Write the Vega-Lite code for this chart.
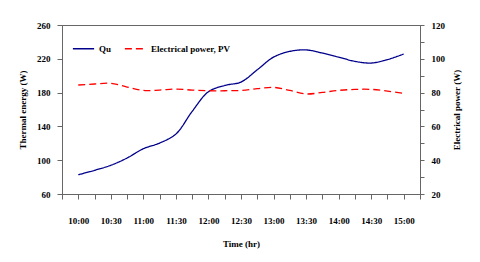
{
  "$schema": "https://vega.github.io/schema/vega-lite/v6.json",
  "autosize": {"type": "none"},
  "padding": {"left": 62, "top": 25, "right": 60, "bottom": 68},
  "width": 358,
  "height": 169,
  "background": "white",
  "config": {
    "font": "Liberation Serif",
    "view": {"stroke": "#666666", "strokeWidth": 1},
    "axis": {
      "grid": false,
      "domainColor": "#666666",
      "tickColor": "#666666",
      "labelFont": "Liberation Serif",
      "labelFontWeight": "bold",
      "labelFontSize": 9,
      "labelColor": "black",
      "titleFont": "Liberation Serif",
      "titleFontWeight": "bold",
      "titleFontSize": 9,
      "titleColor": "black"
    },
    "legend": {
      "labelFont": "Liberation Serif",
      "labelFontWeight": "bold",
      "labelFontSize": 9,
      "labelColor": "black"
    }
  },
  "data": {
    "values": [
      {"time": 10.0, "series": "Qu", "value": 82.8},
      {"time": 10.25, "series": "Qu", "value": 88},
      {"time": 10.5, "series": "Qu", "value": 94},
      {"time": 10.75, "series": "Qu", "value": 102.6},
      {"time": 11.0, "series": "Qu", "value": 113.6},
      {"time": 11.25, "series": "Qu", "value": 120.3},
      {"time": 11.5, "series": "Qu", "value": 131},
      {"time": 11.75, "series": "Qu", "value": 157.8},
      {"time": 12.0, "series": "Qu", "value": 181},
      {"time": 12.25, "series": "Qu", "value": 188.5},
      {"time": 12.5, "series": "Qu", "value": 192.5},
      {"time": 12.75, "series": "Qu", "value": 207},
      {"time": 13.0, "series": "Qu", "value": 222},
      {"time": 13.25, "series": "Qu", "value": 228.8},
      {"time": 13.5, "series": "Qu", "value": 230.5},
      {"time": 13.75, "series": "Qu", "value": 226.8},
      {"time": 14.0, "series": "Qu", "value": 222},
      {"time": 14.25, "series": "Qu", "value": 217},
      {"time": 14.5, "series": "Qu", "value": 215},
      {"time": 14.75, "series": "Qu", "value": 219},
      {"time": 15.0, "series": "Qu", "value": 225.7},
      {"time": 10.0, "series": "Electrical power, PV", "value": 84.5},
      {"time": 10.25, "series": "Electrical power, PV", "value": 85.1},
      {"time": 10.5, "series": "Electrical power, PV", "value": 85.5},
      {"time": 10.75, "series": "Electrical power, PV", "value": 83.3},
      {"time": 11.0, "series": "Electrical power, PV", "value": 81.3},
      {"time": 11.25, "series": "Electrical power, PV", "value": 81.5},
      {"time": 11.5, "series": "Electrical power, PV", "value": 82.1},
      {"time": 11.75, "series": "Electrical power, PV", "value": 81.5},
      {"time": 12.0, "series": "Electrical power, PV", "value": 81.1},
      {"time": 12.25, "series": "Electrical power, PV", "value": 81.1},
      {"time": 12.5, "series": "Electrical power, PV", "value": 81.3},
      {"time": 12.75, "series": "Electrical power, PV", "value": 82.3},
      {"time": 13.0, "series": "Electrical power, PV", "value": 83.1},
      {"time": 13.25, "series": "Electrical power, PV", "value": 81.3},
      {"time": 13.5, "series": "Electrical power, PV", "value": 79.2},
      {"time": 13.75, "series": "Electrical power, PV", "value": 80.1},
      {"time": 14.0, "series": "Electrical power, PV", "value": 81.3},
      {"time": 14.25, "series": "Electrical power, PV", "value": 81.9},
      {"time": 14.5, "series": "Electrical power, PV", "value": 81.9},
      {"time": 14.75, "series": "Electrical power, PV", "value": 80.9},
      {"time": 15.0, "series": "Electrical power, PV", "value": 79.5}
    ]
  },
  "encoding": {
    "x": {
      "field": "time",
      "type": "quantitative",
      "scale": {"domain": [9.75, 15.25], "nice": false, "zero": false},
      "axis": {
        "values": [9.75, 10, 10.25, 10.5, 10.75, 11, 11.25, 11.5, 11.75, 12, 12.25, 12.5, 12.75, 13, 13.25, 13.5, 13.75, 14, 14.25, 14.5, 14.75, 15, 15.25],
        "labelExpr": "datum.value >= 10 && datum.value <= 15 && (datum.value * 2) % 1 == 0 ? floor(datum.value) + ':' + (datum.value % 1 == 0 ? '00' : '30') : ''",
        "tickSize": 5,
        "labelPadding": 17,
        "labelFlush": false,
        "labelOverlap": false,
        "title": "Time (hr)",
        "titleX": 179,
        "titleY": 49,
        "titleBaseline": "middle",
        "titleAlign": "center"
      }
    },
    "color": {
      "field": "series",
      "type": "nominal",
      "scale": {"domain": ["Qu", "Electrical power, PV"], "range": ["#00008B", "#FF0000"]},
      "legend": {
        "title": null,
        "orient": "none",
        "direction": "horizontal",
        "legendX": 10,
        "legendY": 12,
        "symbolType": "stroke",
        "symbolSize": 450,
        "symbolStrokeWidth": 1.4,
        "labelOffset": 4,
        "columnPadding": 10
      }
    },
    "strokeDash": {
      "field": "series",
      "type": "nominal",
      "scale": {"domain": ["Qu", "Electrical power, PV"], "range": [[1, 0], [7, 4]]},
      "legend": {
        "title": null,
        "orient": "none",
        "direction": "horizontal",
        "legendX": 10,
        "legendY": 12,
        "symbolType": "stroke",
        "symbolSize": 450,
        "symbolStrokeWidth": 1.4,
        "labelOffset": 4,
        "columnPadding": 10
      }
    }
  },
  "layer": [
    {
      "transform": [{"filter": "datum.series == 'Qu'"}],
      "mark": {"type": "line", "interpolate": "catmull-rom", "strokeWidth": 1.3},
      "encoding": {
        "y": {
          "field": "value",
          "type": "quantitative",
          "scale": {"domain": [60, 260], "nice": false, "zero": false},
          "axis": {
            "orient": "left",
            "values": [60, 100, 140, 180, 220, 260],
            "tickSize": 5,
            "labelPadding": 7,
            "title": "Thermal energy (W)",
            "titleAngle": -90,
            "titleX": -40,
            "titleY": 84.5,
            "titleAlign": "center",
            "titleBaseline": "middle"
          }
        }
      }
    },
    {
      "transform": [{"filter": "datum.series == 'Electrical power, PV'"}],
      "mark": {"type": "line", "interpolate": "catmull-rom", "strokeWidth": 1.3},
      "encoding": {
        "y": {
          "field": "value",
          "type": "quantitative",
          "scale": {"domain": [20, 120], "nice": false, "zero": false},
          "axis": {
            "orient": "right",
            "values": [20, 30, 40, 50, 60, 70, 80, 90, 100, 110, 120],
            "labelExpr": "datum.value % 20 == 0 ? datum.label : ''",
            "tickSize": 4,
            "labelPadding": 7,
            "title": "Electrical power (W)",
            "titleAngle": -90,
            "titleX": 36.5,
            "titleY": 84.5,
            "titleAlign": "center",
            "titleBaseline": "middle"
          }
        }
      }
    }
  ],
  "resolve": {"scale": {"y": "independent"}}
}
